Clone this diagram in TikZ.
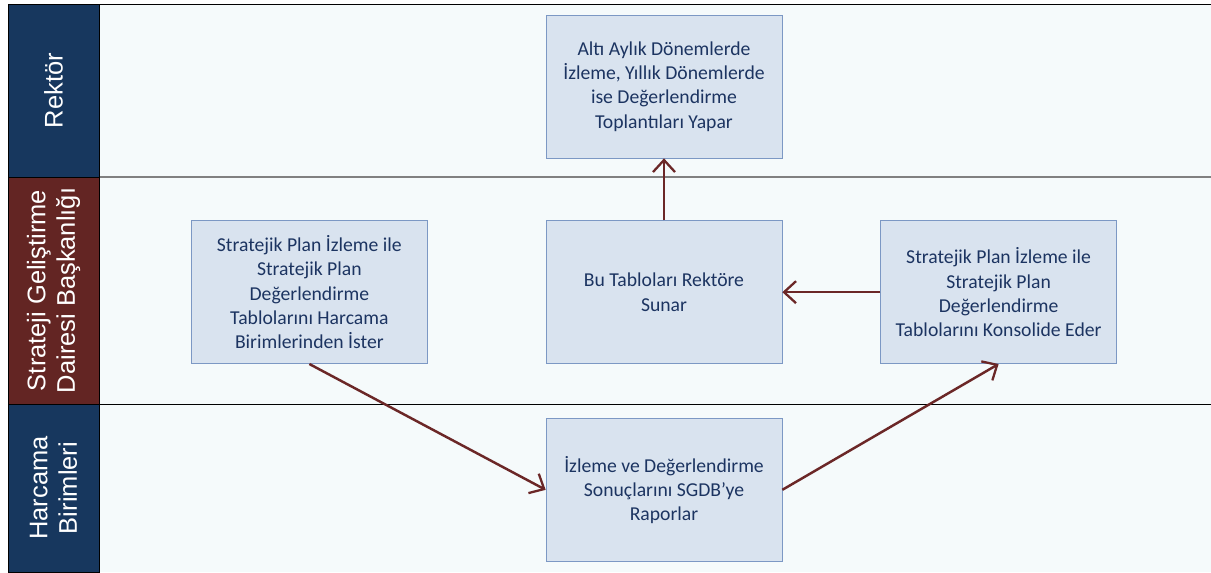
\documentclass[tikz,border=0pt]{standalone}
\usepackage{fontspec}
\setmainfont{Carlito}
\newfontfamily\lanefont{Liberation Sans}
\usetikzlibrary{positioning,arrows.meta}
\definecolor{laneblue}{HTML}{17375E}
\definecolor{lanered}{HTML}{632523}
\definecolor{lanebg}{HTML}{F5FAFB}
\definecolor{boxfill}{HTML}{D9E3EF}
\definecolor{boxdraw}{HTML}{7C98C4}
\definecolor{boxtext}{HTML}{1C3461}
\definecolor{flow}{HTML}{6B2727}
\tikzset{
>={Straight Barb[length=2.4mm,width=4.4mm,line width=1.3pt]},
  lanehead/.style={
    rectangle,
    draw=black, thin,
    text=white,
    font=\lanefont\fontsize{14.5}{16.8}\selectfont,
    align=center,
    rotate=90,
    minimum height=1.82cm,
    inner sep=0pt},
  task/.style={
    rectangle,
    fill=boxfill,
    draw=boxdraw, thin,
    text=boxtext,
    font=\fontsize{11.2}{13.8}\selectfont,
    align=center,
    minimum width=4.72cm,
    minimum height=2.86cm,
    inner sep=0pt},
  line/.style={draw=flow, line width=1.4pt, ->},
}
\begin{document}
\begin{tikzpicture}[x=0.02cm, y=-0.02cm]
  \useasboundingbox (0,0) rectangle (1211,572);
  % lanes
  \fill[lanebg] (99,4) rectangle (1211,572);
  \draw[black] (8,4) -- (1211,4);
  \draw[gray, line width=0.8pt] (99,177) -- (1211,177);
  \draw[black] (99,404) -- (1211,404);
  \node[lanehead, fill=laneblue, minimum width=3.46cm] (hRektor) at (53.5,90.5) {Rektör};
  \node[lanehead, fill=lanered, minimum width=4.54cm] (hSgdb) at (53.5,290.5) {Strateji Geliştirme\\Dairesi Başkanlığı};
  \node[lanehead, fill=laneblue, minimum width=3.36cm] (hHarcama) at (53.5,488) {Harcama\\Birimleri};

  % tasks
  \node[task] (toplanti) at (664,86.5) {Altı Aylık Dönemlerde\\İzleme, Yıllık Dönemlerde\\ise Değerlendirme\\Toplantıları Yapar};
  \node[task, below=1.24cm of toplanti] (sunar) {Bu Tabloları Rektöre\\Sunar};
  \node[task, left=2.36cm of sunar] (ister) {Stratejik Plan İzleme ile\\Stratejik Plan\\Değerlendirme\\Tablolarını Harcama\\Birimlerinden İster};
  \node[task, right=1.96cm of sunar] (konsolide) {Stratejik Plan İzleme ile\\Stratejik Plan\\Değerlendirme\\Tablolarını Konsolide Eder};
  \node[task, below=1.08cm of sunar] (rapor) {İzleme ve Değerlendirme\\Sonuçlarını SGDB’ye\\Raporlar};

  % flow
  \path[line] (ister.south) -- (rapor.west);
  \path[line] (rapor.east) -- (konsolide.south);
  \path[line] (konsolide.west) -- (sunar.east);
  \path[line] (sunar.north) -- (toplanti.south);
\end{tikzpicture}
\end{document}
